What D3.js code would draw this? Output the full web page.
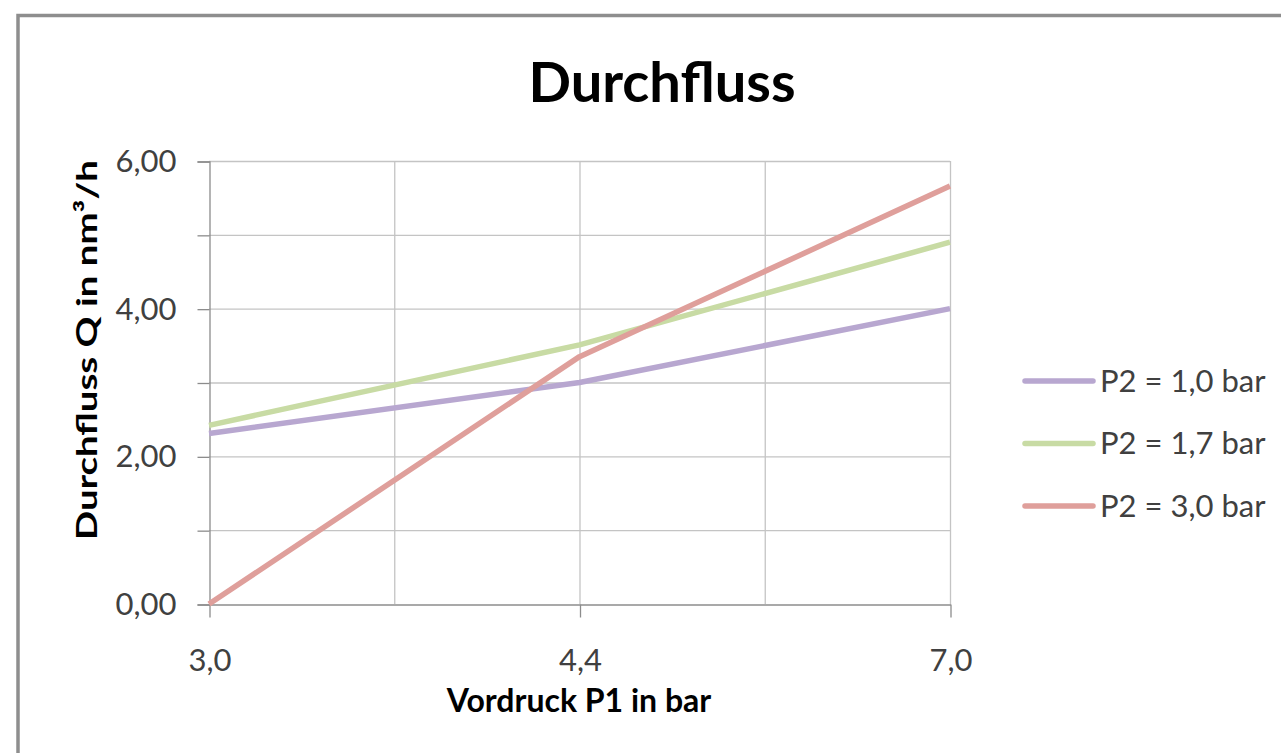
<!DOCTYPE html>
<html>
<head>
<meta charset="utf-8">
<script src="https://cdn.jsdelivr.net/npm/d3@7"></script>
<style>
  html, body { margin: 0; padding: 0; background: #fff; overflow: hidden; }
  svg { display: block; font-family: Lato, "Open Sans", sans-serif; }
</style>
</head>
<body>
<svg id="chart" width="1281" height="753"></svg>
<script>
// ---- data ----
const categories = ["3,0", "4,4", "7,0"];
const seriesNames = ["P2 = 1,0 bar", "P2 = 1,7 bar", "P2 = 3,0 bar"];
const valuesP2_10 = [2.31, 3.00, 4.00];
const valuesP2_17 = [2.42, 3.51, 4.90];
const valuesP2_30 = [0.00, 3.35, 5.66];
const yTickValues = [0, 1, 2, 3, 4, 5, 6];
const yLabelValues = [0, 2, 4, 6];
const colors = ["#b8a7d0", "#c8dba4", "#df9f9b"];

const series = [valuesP2_10, valuesP2_17, valuesP2_30].map((v, i) => ({
  name: seriesNames[i], color: colors[i],
  points: v.map((yv, j) => ({ x: categories[j], y: yv }))
}));

const svg = d3.select("#chart");
const pLeft = 209, pRight = 950, pTop = 161, pBottom = 604;

// frame
svg.append("rect").attr("x", 18).attr("y", 15.5).attr("width", 1400).attr("height", 900)
  .attr("fill", "none").attr("stroke", "#8e8e8e").attr("stroke-width", 3.5);

const x = d3.scalePoint().domain(categories).range([pLeft, pRight]);
const y = d3.scaleLinear().domain([0, 6]).range([pBottom, pTop]);
const loc = d3.formatLocale({ decimal: ",", thousands: ".", grouping: [3], currency: ["", "€"] });
const fmtY = loc.format(".2f");

// horizontal gridlines
svg.append("g").selectAll("line").data(yTickValues.filter(d => d > 0)).join("line")
  .attr("x1", pLeft).attr("x2", pRight).attr("y1", d => y(d) + 0.5).attr("y2", d => y(d) + 0.5)
  .attr("stroke", "#c4c4c4").attr("stroke-width", 1.3);

// vertical gridlines (major at categories, minor at midpoints)
const step = x.step();
const vGrid = categories.slice(1).map(c => x(c)).concat(categories.slice(1).map(c => x(c) - step / 2));
svg.append("g").selectAll("line").data(vGrid).join("line")
  .attr("x1", d => d + 0.5).attr("x2", d => d + 0.5).attr("y1", pTop).attr("y2", pBottom)
  .attr("stroke", "#c4c4c4").attr("stroke-width", 1.3);

// y axis
const yAxis = d3.axisLeft(y).tickValues(yTickValues).tickSize(12)
  .tickFormat(d => yLabelValues.includes(d) ? fmtY(d) : "");
const gy = svg.append("g").attr("transform", `translate(${pLeft + 0.5},0.5)`).call(yAxis);
gy.select(".domain").attr("stroke", "#8c8c8c").attr("stroke-width", 1.3);
gy.selectAll(".tick line").attr("stroke", "#8c8c8c").attr("stroke-width", 1.3);
gy.selectAll(".tick text").attr("x", -33).attr("font-size", 31).attr("fill", "#404040")
  .attr("font-family", "Lato, sans-serif");

// x axis
const xAxis = d3.axisBottom(x).tickSize(13).tickSizeOuter(0);
const gx = svg.append("g").attr("transform", `translate(0.5,${pBottom + 0.5})`).call(xAxis);
gx.select(".domain").attr("stroke", "#8c8c8c").attr("stroke-width", 1.3);
gx.selectAll(".tick line").attr("stroke", "#8c8c8c").attr("stroke-width", 1.3);
gx.selectAll(".tick text").attr("y", 66).attr("dy", "0").attr("font-size", 31).attr("fill", "#404040")
  .attr("font-family", "Lato, sans-serif");

// lines
const line = d3.line().x(d => x(d.x)).y(d => y(d.y));
svg.append("g").selectAll("path").data(series).join("path")
  .attr("d", d => line(d.points)).attr("fill", "none")
  .attr("stroke", d => d.color).attr("stroke-width", 5.5)
  .attr("stroke-linejoin", "round");

// title
svg.append("text").attr("x", 662).attr("y", 102).attr("text-anchor", "middle")
  .attr("font-size", 56).attr("font-weight", "bold").attr("fill", "#000").text("Durchfluss");

// axis titles
svg.append("text").attr("transform", "translate(97,350) rotate(-90)").attr("text-anchor", "middle")
  .attr("font-size", 29).attr("font-weight", "bold").attr("fill", "#000")
  .attr("textLength", 380).attr("lengthAdjust", "spacingAndGlyphs").text("Durchfluss Q in nm³/h");
svg.append("text").attr("x", 579).attr("y", 712).attr("text-anchor", "middle")
  .attr("font-size", 32).attr("font-weight", "bold").attr("fill", "#000").text("Vordruck P1 in bar");

// legend
const lg = svg.append("g").selectAll("g").data(series).join("g")
  .attr("transform", (d, i) => `translate(1025,${381 + i * 62.5})`);
lg.append("line").attr("x1", 0).attr("x2", 68).attr("stroke", d => d.color)
  .attr("stroke-width", 5.5).attr("stroke-linecap", "round");
lg.append("text").attr("x", 75).attr("dy", "0.35em").attr("font-size", 31)
  .attr("fill", "#404040").text(d => d.name);
</script>
</body>
</html>
